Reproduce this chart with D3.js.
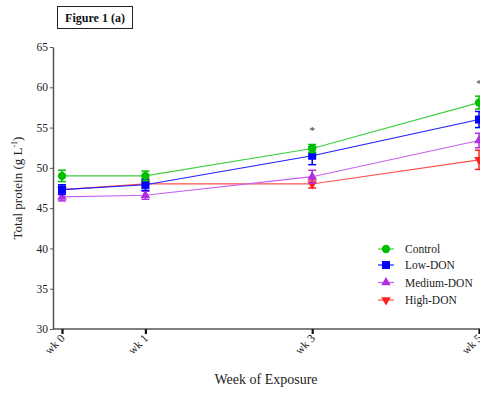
<!DOCTYPE html>
<html>
<head>
<meta charset="utf-8">
<script src="https://cdn.jsdelivr.net/npm/d3@7"></script>
<style>
body{margin:0;background:#fff;}
svg{font-family:"Liberation Serif","Times New Roman",serif;}
</style>
</head>
<body>
<svg id="chart" width="480" height="396"></svg>
<script>
const weeks=[0,1,3,5];
const weekLabels=["wk 0","wk 1","wk 3","wk 5"];
const groups=["Control","Low-DON","Medium-DON","High-DON"];
const controlMean=[49.0,49.0,52.4,58.1];
const controlErr=[0.7,0.6,0.5,0.8];
const lowMean=[47.3,47.9,51.5,56.0];
const lowErr=[0.6,0.7,1.1,1.0];
const medMean=[46.4,46.6,48.9,53.4];
const medErr=[0.5,0.5,0.8,0.9];
const highMean=[47.3,48.0,48.0,51.0];
const highErr=[0.4,0.5,0.5,1.2];
const yTicks=[30,35,40,45,50,55,60,65];
const starWeeks=[3,5];

const svg=d3.select("#chart");
const x=d3.scaleLinear().domain([0,5]).range([62,479]);
const y=d3.scaleLinear().domain([30,65]).range([329,47]);

const series=[
  {name:groups[0],mean:controlMean,err:controlErr,color:"#00c000",line:"#40d040",shape:d3.symbolCircle,size:55},
  {name:groups[1],mean:lowMean,err:lowErr,color:"#0000ff",line:"#2020ff",shape:d3.symbolSquare,size:64},
  {name:groups[2],mean:medMean,err:medErr,color:"#b030e0",line:"#c860f0",shape:d3.symbolTriangle,size:40,flip:false},
  {name:groups[3],mean:highMean,err:highErr,color:"#ff2020",line:"#ff5050",shape:d3.symbolTriangle,size:40,flip:true}
];

// title box
svg.append("rect").attr("x",57.5).attr("y",6.5).attr("width",75).attr("height",22)
   .attr("fill","none").attr("stroke","#222").attr("stroke-width",1);
svg.append("text").attr("x",95).attr("y",22).attr("text-anchor","middle")
   .attr("font-weight","bold").attr("font-size",12).attr("fill","#111").text("Figure 1 (a)");

// axes
const yAxis=svg.append("g").attr("transform","translate(53,0)")
   .call(d3.axisLeft(y).tickValues(yTicks).tickSize(3).tickSizeOuter(0));
yAxis.select(".domain").attr("stroke","#555").attr("stroke-width",1.5);
yAxis.selectAll(".tick line").attr("stroke","#555");
yAxis.selectAll("text").attr("font-size",11.5).attr("fill","#222")
   .attr("font-family","Liberation Serif, serif").attr("dx",1);

const xAxis=svg.append("g").attr("transform","translate(0,329)")
   .call(d3.axisBottom(x).tickValues(weeks).tickFormat((d,i)=>weekLabels[i]).tickSize(5).tickSizeOuter(0));
xAxis.select(".domain").attr("d","M53,0H480").attr("stroke","#555").attr("stroke-width",1.5);
xAxis.selectAll(".tick line").attr("stroke","#111").attr("stroke-width",2.2);
xAxis.selectAll("text").attr("font-size",11.5).attr("fill","#222")
   .attr("font-family","Liberation Serif, serif")
   .attr("text-anchor","end").attr("dy",0).attr("y",0)
   .attr("transform","translate(3,10) rotate(-45)");

// axis titles
svg.append("text").attr("transform","translate(22,188) rotate(-90)").attr("text-anchor","middle")
   .attr("font-size",13).attr("fill","#222")
   .html('Total protein (g L<tspan dy="-5" font-size="8">-1</tspan><tspan dy="5">)</tspan>');
svg.append("text").attr("x",266).attr("y",384).attr("text-anchor","middle")
   .attr("font-size",14).attr("fill","#222").text("Week of Exposure");

// lines, error bars, markers (draw in reverse so Control sits on top)
const line=d3.line().x((d,i)=>x(weeks[i])).y(d=>y(d));
series.slice().reverse().forEach(s=>{
  const g=svg.append("g");
  g.append("path").datum(s.mean).attr("d",line).attr("fill","none")
   .attr("stroke",s.line).attr("stroke-width",1.2);
  s.mean.forEach((m,i)=>{
    const cx=x(weeks[i]);
    const e=g.append("g").attr("stroke",s.color).attr("stroke-width",1.5);
    e.append("line").attr("x1",cx).attr("x2",cx).attr("y1",y(m-s.err[i])).attr("y2",y(m+s.err[i]));
    e.append("line").attr("x1",cx-4).attr("x2",cx+4).attr("y1",y(m-s.err[i])).attr("y2",y(m-s.err[i]));
    e.append("line").attr("x1",cx-4).attr("x2",cx+4).attr("y1",y(m+s.err[i])).attr("y2",y(m+s.err[i]));
    g.append("path").attr("d",d3.symbol().type(s.shape).size(s.size)())
     .attr("transform",`translate(${cx},${y(m)})${s.flip?" rotate(180)":""}`)
     .attr("fill",s.color);
  });
});

// significance marks
svg.selectAll(".star").data(starWeeks).enter().append("text")
   .attr("x",d=>x(d)).attr("y",(d,i)=>i==0?y(54.2):y(60.0)).attr("text-anchor","middle")
   .attr("font-size",11).attr("fill","#333").text("*");

// legend
const legend=svg.append("g").attr("transform","translate(378,249)");
series.forEach((s,i)=>{
  const ly=[0,16,33.5,51][i];
  legend.append("line").attr("x1",0).attr("x2",16).attr("y1",ly).attr("y2",ly)
     .attr("stroke",s.line).attr("stroke-width",1.2);
  legend.append("path").attr("d",d3.symbol().type(s.shape).size(s.size)())
     .attr("transform",`translate(8,${ly})${s.flip?" rotate(180)":""}`).attr("fill",s.color);
  legend.append("text").attr("x",27).attr("y",ly+4).attr("font-size",11.5).attr("fill","#222").text(s.name);
});
</script>
</body>
</html>
